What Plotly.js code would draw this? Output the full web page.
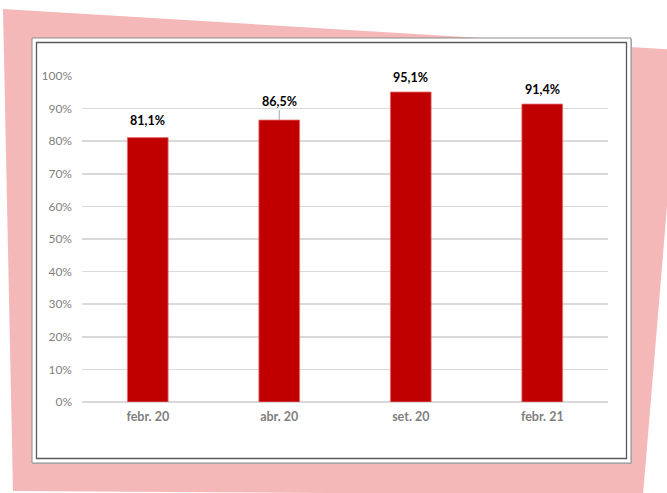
<!DOCTYPE html>
<html>
<head>
<meta charset="utf-8">
<script src="https://cdn.plot.ly/plotly-3.0.1.min.js"></script>
<style>
html,body{margin:0;padding:0;background:#fff;}
#chart{width:667px;height:493px;}
</style>
</head>
<body>
<div id="chart"></div>
<script>
// Data
const categories = ['febr. 20', 'abr. 20', 'set. 20', 'febr. 21'];
const values = [0.811, 0.865, 0.951, 0.914];

// Layout geometry (pixels)
const W = 667, H = 493;
const M = {l: 82, r: 59, t: 76, b: 91};
const PW = W - M.l - M.r, PH = H - M.t - M.b;
const px = x => (x - M.l) / PW;
const py = y => 1 - (y - M.t) / PH;

function fmt(v) { return (v * 100).toFixed(1).replace('.', ',') + '%'; }

const labelShift = [17, null, 14, 15];
const annotations = categories.map((c, i) => {
  if (labelShift[i] === null) {
    return {x: c, y: values[i], xref: 'x', yref: 'y', text: '<b>' + fmt(values[i]) + '</b>',
      showarrow: true, arrowhead: 0, arrowwidth: 1, arrowcolor: '#a6a6a6', ax: 0, ay: -19,
      font: {family: 'Lato, sans-serif', size: 12.5, color: '#000'}};
  }
  return {x: c, y: values[i], xref: 'x', yref: 'y', text: '<b>' + fmt(values[i]) + '</b>',
    showarrow: false, yanchor: 'middle', yshift: labelShift[i],
    font: {family: 'Lato, sans-serif', size: 12.5, color: '#000'}};
});

const pinkPts = [[3, 9], [680, 50], [643, 495], [13, 491]];
const pinkPath = 'M ' + pinkPts.map(p => px(p[0]) + ',' + py(p[1])).join(' L ') + ' Z';

const shapes = [
  {type: 'path', xref: 'paper', yref: 'paper', path: pinkPath, fillcolor: '#f4b8b8', line: {width: 0}, layer: 'below'},
  {type: 'rect', xref: 'paper', yref: 'paper', x0: px(33), x1: px(632), y0: py(39), y1: py(464), fillcolor: '#bdbdbd', line: {width: 0}, layer: 'below'},
  {type: 'rect', xref: 'paper', yref: 'paper', x0: px(32), x1: px(631), y0: py(38), y1: py(463), fillcolor: '#ffffff', line: {color: '#8c8c8c', width: 1}, layer: 'below'},
  {type: 'rect', xref: 'paper', yref: 'paper', x0: px(36.5), x1: px(626.5), y0: py(42.5), y1: py(458.5), fillcolor: 'rgba(0,0,0,0)', line: {color: '#595959', width: 1.3}, layer: 'below'}
];

const trace = {
  type: 'bar', x: categories, y: values,
  marker: {color: '#c00000', line: {color: '#e57373', width: 0.8}},
  hoverinfo: 'none', cliponaxis: false
};

const layout = {
  width: W, height: H,
  margin: M,
  paper_bgcolor: '#ffffff',
  plot_bgcolor: 'rgba(0,0,0,0)',
  showlegend: false,
  bargap: 0.69,
  separators: ',.',
  font: {family: 'Lato, sans-serif'},
  xaxis: {
    type: 'category', showgrid: false, showline: false, zeroline: false, ticks: '',
    tickfont: {family: 'Lato, sans-serif', size: 12.5, color: '#808080', weight: 'bold'},
    ticklabelstandoff: 5
  },
  yaxis: {
    range: [0, 1], dtick: 0.1, tick0: 0, tickformat: '.0%',
    showgrid: true, gridcolor: '#d9d9d9', gridwidth: 1.5,
    zeroline: true, zerolinecolor: '#d9d9d9', zerolinewidth: 1.5,
    showline: false, ticks: '',
    tickfont: {family: 'Lato, sans-serif', size: 12, color: '#7f7f7f'},
    ticklabelstandoff: 9
  },
  shapes: shapes,
  annotations: annotations
};

Plotly.newPlot('chart', [trace], layout, {displayModeBar: false, staticPlot: true});
</script>
</body>
</html>
